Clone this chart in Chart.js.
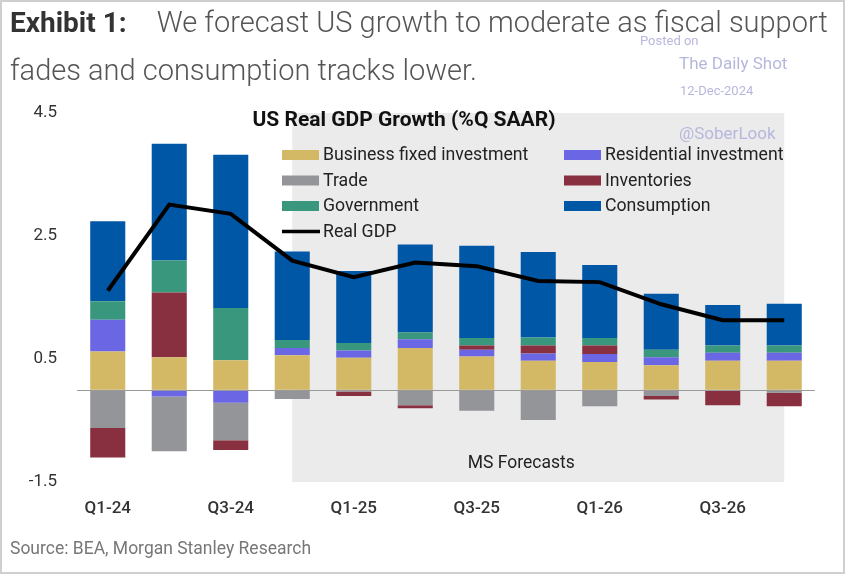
<!DOCTYPE html>
<html>
<head>
<meta charset="utf-8">
<script src="https://cdn.jsdelivr.net/npm/chart.js@4/dist/chart.umd.min.js"></script>
<style>
  html, body { margin: 0; padding: 0; background: #fff; }
  #wrap { position: relative; width: 846px; height: 577px; overflow: hidden; font-family: Roboto, "Open Sans", sans-serif; }
  #frame { position: absolute; left: 0; top: 0; width: 845px; height: 574px; border: 2px solid #cfcfcf; box-sizing: border-box; pointer-events: none; }
  canvas { position: absolute; left: 0; top: 0; }
  .hdr { position: absolute; left: 10px; font-size: 29px; color: #555; font-weight: 300; white-space: nowrap; line-height: 1; }
  .hdr b { color: #333; font-weight: 700; font-size: 28px; margin-right: 30px; }
  .wm { position: absolute; color: #b7b7dd; white-space: nowrap; line-height: 1; }
  #src { position: absolute; left: 10px; top: 540px; font-size: 17.5px; color: #777; white-space: nowrap; line-height: 1; }
</style>
</head>
<body>
<div id="wrap">
  <canvas id="c" width="846" height="577"></canvas>
  <div class="hdr" style="top:8px;"><b>Exhibit 1:</b>We forecast US growth to moderate as fiscal support</div>
  <div class="hdr" style="top:56px;">fades and consumption tracks lower.</div>
  <div class="wm" style="left:640px;top:34px;font-size:13px;">Posted on</div>
  <div class="wm" style="left:679px;top:55px;font-size:17px;">The Daily Shot</div>
  <div class="wm" style="left:680px;top:84px;font-size:13px;">12-Dec-2024</div>
  <div class="wm" style="left:679px;top:125px;font-size:17px;">@SoberLook</div>
  <div id="src">Source: BEA, Morgan Stanley Research</div>
  <div id="frame"></div>
</div>
<script>
const quarters = ['Q1-24','Q2-24','Q3-24','Q4-24','Q1-25','Q2-25','Q3-25','Q4-25','Q1-26','Q2-26','Q3-26','Q4-26'];
const businessFixed = [0.62, 0.53, 0.48, 0.56, 0.52, 0.68, 0.54, 0.47, 0.45, 0.40, 0.47, 0.47];
const residential   = [0.52, -0.11, -0.21, 0.12, 0.12, 0.14, 0.11, 0.12, 0.13, 0.13, 0.13, 0.13];
const trade         = [-0.62, -0.89, -0.61, -0.15, -0.03, -0.25, -0.34, -0.49, -0.27, -0.10, -0.02, -0.05];
const inventories   = [-0.48, 1.05, -0.16, 0.00, -0.07, -0.05, 0.07, 0.13, 0.14, -0.06, -0.23, -0.22];
const government    = [0.30, 0.52, 0.85, 0.13, 0.12, 0.11, 0.12, 0.13, 0.12, 0.12, 0.12, 0.12];
const consumption   = [1.30, 1.90, 2.49, 1.44, 1.17, 1.43, 1.50, 1.39, 1.19, 0.91, 0.66, 0.68];
const realGDP       = [1.61, 3.01, 2.86, 2.10, 1.83, 2.07, 2.01, 1.77, 1.75, 1.39, 1.13, 1.13];
const yTicks = [-1.5, 0.5, 2.5, 4.5];
const forecastStart = 'Q4-24';
const forecastEnd = 'Q4-26';
const chartTitle = 'US Real GDP Growth (%Q SAAR)';
const forecastLabel = 'MS Forecasts';

const colors = {
  bfi: '#d3b866', res: '#6b66e3', trade: '#939598', inv: '#88303f', gov: '#38977c', cons: '#0057a5', gdp: '#000000'
};

function bar(label, data, color) {
  return { type: 'bar', label, data, backgroundColor: color, borderWidth: 0, stack: 'gdp', order: 1,
           barPercentage: 0.57, categoryPercentage: 1.0 };
}

const backdrop = {
  id: 'backdrop',
  beforeDatasetsDraw(chart) {
    const { ctx, chartArea, scales } = chart;
    const x0 = scales.x.getPixelForValue(quarters.indexOf(forecastStart));
    const x1 = scales.x.getPixelForValue(quarters.indexOf(forecastEnd));
    ctx.save();
    ctx.fillStyle = '#ebebeb';
    ctx.fillRect(x0, chartArea.top, x1 - x0, chartArea.bottom - chartArea.top);
    ctx.fillStyle = '#222';
    ctx.font = '17.5px Roboto';
    ctx.textAlign = 'center';
    ctx.textBaseline = 'middle';
    ctx.fillText(forecastLabel, (x0 + x1) / 2 - 17, 464);
    ctx.restore();
  },
  afterDatasetsDraw(chart) {
    const { ctx, chartArea, scales } = chart;
    const y0 = Math.round(scales.y.getPixelForValue(0)) + 0.5;
    ctx.save();
    ctx.strokeStyle = '#9a9a9a';
    ctx.lineWidth = 1;
    ctx.beginPath();
    ctx.moveTo(chartArea.left, y0);
    ctx.lineTo(chartArea.right, y0);
    ctx.stroke();
    ctx.restore();
  },
  afterDraw(chart) {
    const { ctx } = chart;
    ctx.save();
    ctx.fillStyle = '#111';
    ctx.font = 'bold 21px Roboto';
    ctx.textAlign = 'center';
    ctx.textBaseline = 'middle';
    ctx.fillText(chartTitle, 404, 121);
    // legend
    const ds = chart.data.datasets;
    const colX = [282, 564];
    const rowY = [155, 180.5, 206, 231.5];
    ctx.font = '17.7px Roboto';
    ctx.textAlign = 'left';
    ds.forEach((d, k) => {
      const x = colX[k % 2];
      const y = rowY[Math.floor(k / 2)];
      if (d.type === 'line') {
        ctx.strokeStyle = d.borderColor;
        ctx.lineWidth = 3.5;
        ctx.beginPath();
        ctx.moveTo(x, y);
        ctx.lineTo(x + 38, y);
        ctx.stroke();
      } else {
        ctx.fillStyle = d.backgroundColor;
        ctx.fillRect(x, y - 5, 37, 10);
      }
      ctx.fillStyle = '#222';
      ctx.fillText(d.label, x + 41, y + 1);
    });
    ctx.restore();
  }
};

new Chart(document.getElementById('c'), {
  data: {
    labels: quarters,
    datasets: [
      bar('Business fixed investment', businessFixed, colors.bfi),
      bar('Residential investment', residential, colors.res),
      bar('Trade', trade, colors.trade),
      bar('Inventories', inventories, colors.inv),
      bar('Government', government, colors.gov),
      bar('Consumption', consumption, colors.cons),
      { type: 'line', label: 'Real GDP', data: realGDP, borderColor: colors.gdp, borderWidth: 4,
        pointRadius: 0, tension: 0, fill: false, order: 0, stack: 'line' }
    ]
  },
  options: {
    responsive: false,
    animation: false,
    layout: { padding: { left: 0, top: 113, right: 31, bottom: 0 } },
    plugins: { legend: { display: false }, tooltip: { enabled: false }, title: { display: false } },
    scales: {
      x: {
        stacked: true,
        grid: { display: false, drawTicks: false },
        border: { display: false },
        afterFit(s) { s.height = 95; },
        ticks: {
          autoSkip: false, maxRotation: 0, padding: 17, color: '#333',
          font: { family: 'Roboto', size: 17, weight: '500' },
          callback(v, i) { return i % 2 === 0 ? quarters[i] : ''; }
        }
      },
      y: {
        stacked: true,
        min: yTicks[0], max: yTicks[yTicks.length - 1],
        grid: { display: false, drawTicks: false },
        border: { display: false },
        afterFit(s) { s.width = 77; },
        afterBuildTicks(s) { s.ticks = yTicks.map(v => ({ value: v })); },
        ticks: {
          padding: 20, color: '#333',
          font: { family: 'Roboto', size: 17 },
          callback(v) { return Number(v).toFixed(1); }
        }
      }
    }
  },
  plugins: [backdrop]
});
</script>
</body>
</html>
